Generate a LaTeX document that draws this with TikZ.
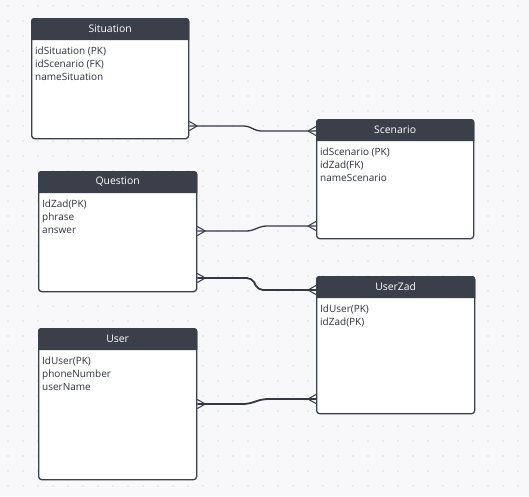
\documentclass[tikz,border=0pt]{standalone}
\usepackage{fontspec}
\setmainfont{Open Sans}
\usetikzlibrary{calc}
\definecolor{bgc}{HTML}{F8F8FA}
\definecolor{dotc}{HTML}{DCDDE2}
\definecolor{hdrc}{HTML}{3B3F4A}
\definecolor{linec}{HTML}{343843}
\definecolor{txtc}{HTML}{2E323C}
\tikzset{
  ebox/.style={draw=hdrc, line width=1.3pt, fill=white, rounded corners=3pt, inner sep=0pt},
  hdr/.style={fill=hdrc},
  ttl/.style={text=white, font=\fontsize{10.4}{12}\selectfont, inner sep=0pt},
  attr/.style={text=txtc, font=\fontsize{10}{12}\selectfont, inner sep=0pt, anchor=base west},
  conn/.style={draw=linec, line width=1.3pt, rounded corners=3pt},
  connb/.style={draw=linec, line width=1.8pt, rounded corners=5pt},
  crow/.pic={\draw[draw=linec, line width=1pt] (8,0) -- (0,-4.5) (8,0) -- (0,4.5);},
}
% #1 name, #2 x, #3 y, #4 w, #5 h, #6 title
\newcommand{\erentity}[6]{%
  \node[ebox, minimum width=#4pt, minimum height=#5pt, anchor=north west] (#1) at (#2,#3) {};
  \fill[hdr, rounded corners=3pt] ($(#1.north west)+(0,22)$) -- (#1.north west) -- (#1.north east) [sharp corners] -- ($(#1.north east)+(0,22)$) -- cycle;
  \node[ttl] (#1T) at ($(#1.north)+(0,11)$) {#6};
}
\begin{document}
\begin{tikzpicture}[x=1pt,y=-1pt]
\useasboundingbox (0,0) rectangle (529,496);
\fill[bgc] (0,0) rectangle (529,496);
\foreach \i in {8,23,...,528} {
  \foreach \j in {6,21,...,495} {
    \fill[dotc] (\i,\j) circle (0.9pt);
  }
}
% entities
\erentity{sit}{31}{18}{157}{120}{Situation}
\node[attr] (sitA) at ($(sit.north west)+(4,36)$) {idSituation (PK)};
\node[attr] (sitB) at ($(sit.north west)+(4,49.3)$) {idScenario (FK)};
\node[attr] (sitC) at ($(sit.north west)+(4,62.6)$) {nameSituation};

\erentity{scen}{316}{119}{157}{119}{Scenario}
\node[attr] (scenA) at ($(scen.north west)+(4,36)$) {idScenario (PK)};
\node[attr] (scenB) at ($(scen.north west)+(4,49.3)$) {idZad(FK)};
\node[attr] (scenC) at ($(scen.north west)+(4,62.6)$) {nameScenario};

\erentity{ques}{38}{171}{158}{120}{Question}
\node[attr] (quesA) at ($(ques.north west)+(4,36)$) {IdZad(PK)};
\node[attr] (quesB) at ($(ques.north west)+(4,49.3)$) {phrase};
\node[attr] (quesC) at ($(ques.north west)+(4,62.6)$) {answer};

\erentity{uz}{316}{276}{158}{137}{UserZad}
\node[attr] (uzA) at ($(uz.north west)+(4,36)$) {IdUser(PK)};
\node[attr] (uzB) at ($(uz.north west)+(4,49.3)$) {idZad(PK)};

\erentity{usr}{38}{328}{158}{151}{User}
\node[attr] (usrA) at ($(usr.north west)+(4,36)$) {IdUser(PK)};
\node[attr] (usrB) at ($(usr.north west)+(4,49.3)$) {phoneNumber};
\node[attr] (usrC) at ($(usr.north west)+(4,62.6)$) {userName};

% connectors
\coordinate (c1a) at ($(sit.north east)+(0,108)$);
\coordinate (c1b) at ($(scen.north west)+(0,12)$);
\draw[conn] (c1a) -- (247,126) -- (258,131) -- (c1b);
\pic at (c1a) {crow};
\pic[xscale=-1] at (c1b) {crow};

\coordinate (c2a) at ($(ques.north east)+(0,60)$);
\coordinate (c2b) at ($(scen.north west)+(0,107)$);
\draw[conn] (c2a) -- (250,231) -- (263,226) -- (c2b);
\pic at (c2a) {crow};
\pic[xscale=-1] at (c2b) {crow};

\coordinate (c3a) at ($(ques.north east)+(0,107)$);
\coordinate (c3b) at ($(uz.north west)+(0,14)$);
\draw[connb] (c3a) -- (252,278) -- (258,290) -- (c3b);
\pic at (c3a) {crow};
\pic[xscale=-1] at (c3b) {crow};

\coordinate (c4a) at ($(usr.north east)+(0,76)$);
\coordinate (c4b) at ($(uz.north west)+(0,123)$);
\draw[connb] (c4a) -- (248,404) -- (263,399) -- (c4b);
\pic at (c4a) {crow};
\pic[xscale=-1] at (c4b) {crow};
\end{tikzpicture}
\end{document}
